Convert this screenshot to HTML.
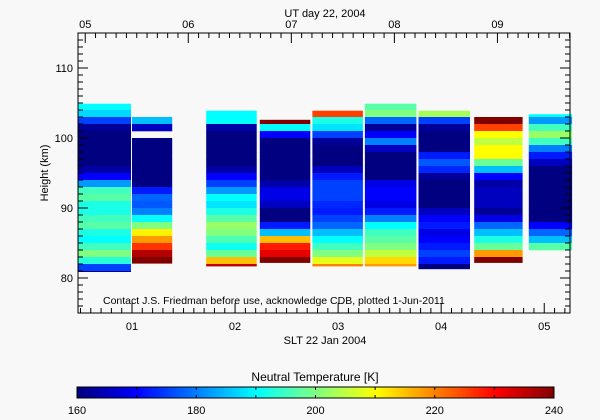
<!DOCTYPE html>
<html><head><meta charset="utf-8"><style>
html,body{margin:0;padding:0;background:#f8f8f8;}
svg{display:block;font-family:"Liberation Sans",sans-serif;}
</style></head><body>
<svg id="chart" width="600" height="420" viewBox="0 0 600 420" xmlns="http://www.w3.org/2000/svg">
<rect x="0" y="0" width="600" height="420" fill="#f8f8f8"/>
<g id="cols"></g>
<g id="axes"></g>
<g id="cbar"></g>
<text x="325" y="17" font-size="11" text-anchor="middle">UT day 22, 2004</text>
<text x="325" y="344" font-size="11" text-anchor="middle">SLT 22 Jan 2004</text>
<text x="0" y="0" font-size="11" text-anchor="middle" transform="translate(48,173) rotate(-90)">Height (km)</text>
<text x="103" y="304" font-size="10.5">Contact J.S. Friedman before use, acknowledge CDB, plotted 1-Jun-2011</text>
<text x="315" y="381" font-size="12" text-anchor="middle">Neutral Temperature [K]</text>
</svg>
<script>
const colStart = [0.476, 1.0, 1.72, 2.24, 2.75, 3.26, 3.78, 4.32, 4.85];
const colEnd   = [0.99, 1.39, 2.21, 2.73, 3.24, 3.76, 4.28, 4.79, 5.27];
const colTop   = [104.9, 103, 103.9, 102.6, 103.9, 104.9, 103.9, 103, 103.4];
const colBottom= [80.9, 82.1, 81.7, 82.2, 81.7, 81.7, 81.3, 82.2, 84];
const col1 = [190,187,175,162,160,160,160,160,160,163,170,182,195,197,192,192,195,197,192,190,195,200,193,175,160];
const col2 = [185,165,null,160,160,160,160,160,160,160,172,178,177,180,190,200,211,218,226,236,240];
const col3 = [190,190,163,160,160,160,160,160,163,170,175,182,190,188,192,197,202,200,196,191,198,215,235];
const col4 = [240,190,170,160,160,160,160,160,160,163,168,168,165,160,160,172,185,215,228,232,240];
const col5 = [225,192,188,175,162,160,160,160,165,172,175,175,175,173,172,175,178,185,190,195,200,208,220];
const col6 = [197,200,178,162,170,180,165,160,160,160,160,168,170,170,168,172,180,190,195,197,200,205,213,218];
const col7 = [203,175,162,160,160,160,172,177,173,162,160,160,160,160,165,170,172,168,170,172,175,172,160];
const col8 = [240,225,210,205,210,210,198,185,170,163,165,165,165,162,168,178,185,192,198,218,240];
const col9 = [190,182,195,202,195,180,172,165,160,160,160,160,160,160,160,160,170,178,185,197];
const columns = [col1,col2,col3,col4,col5,col6,col7,col8,col9];
const yTicks = [80, 90, 100, 110];
const xTicks = ["01","02","03","04","05"];
const xTickVals = [1,2,3,4,5];
const utTicks = ["05","06","07","08","09"];
const utTickVals = [5,6,7,8,9];
const cbTicks = [160,180,200,220,240];

const NS="http://www.w3.org/2000/svg";
const X0=78,X1=570,Y0=33,Y1=313;
const xMin=0.476,xMax=5.25,yMin=75,yMax=115;
function xs(h){return X0+(h-xMin)/(xMax-xMin)*(X1-X0);}
function ys(k){return Y0+(yMax-k)/(yMax-yMin)*(Y1-Y0);}
const utOffset=4.454;
function xu(u){return xs(u-utOffset);}
function jet(v){
  let t=(v-160)/80; t=Math.max(0,Math.min(1,t));
  const c=x=>Math.round(255*Math.max(0,Math.min(1,x)));
  return `rgb(${c(1.5-Math.abs(4*t-3))},${c(1.5-Math.abs(4*t-2))},${c(1.5-Math.abs(4*t-1))})`;
}
function mk(tag,attrs,parent){const e=document.createElementNS(NS,tag);for(const k in attrs)e.setAttribute(k,attrs[k]);parent.appendChild(e);return e;}

const gc=document.getElementById('cols');
columns.forEach((vals,ci)=>{
  const top=colTop[ci],bot=colBottom[ci],ct=Math.ceil(top);
  const xa=xs(colStart[ci]),xb=xs(colEnd[ci]);
  vals.forEach((v,i)=>{
    if(v===null)return;
    const up=i===0?top:ct-i;
    const lo=Math.max(bot,ct-i-1);
    if(up<=bot)return;
    const r=mk('rect',{x:xa.toFixed(1),y:ys(up).toFixed(1),width:(xb-xa).toFixed(1),height:(ys(lo)-ys(up)+0.3).toFixed(1),fill:jet(v)},gc);
    
    
  });
});

const ga=document.getElementById('axes');
const frame=mk('rect',{x:X0,y:Y0,width:X1-X0,height:Y1-Y0,fill:'none',stroke:'#000','stroke-width':1},ga);


// y ticks
for(let k=76;k<=114;k++){
  const major=k%10===0, len=major?10:5;
  mk('line',{x1:X0,x2:X0+len,y1:ys(k),y2:ys(k),stroke:'#000'},ga);
  mk('line',{x1:X1,x2:X1-len,y1:ys(k),y2:ys(k),stroke:'#000'},ga);
}
yTicks.forEach(k=>{
  const t=mk('text',{x:X0-5,y:ys(k)+4,'font-size':11,'text-anchor':'end'},ga);
  t.textContent=k;
  
  
});
// bottom ticks
for(let m=0;m<=60;m++){
  const h=m/10; if(h<xMin||h>xMax)continue;
  const major=m%10===0,len=major?10:5;
  mk('line',{x1:xs(h),x2:xs(h),y1:Y1,y2:Y1-len,stroke:'#000'},ga);
}
xTicks.forEach((lab,i)=>{
  const t=mk('text',{x:xs(xTickVals[i]),y:Y1+17,'font-size':11,'text-anchor':'middle'},ga);
  t.textContent=lab;
  
  
});
// top ticks
for(let m=50;m<=100;m++){
  const u=m/10,x=xu(u); if(x<X0||x>X1)continue;
  const major=m%10===0,len=major?10:5;
  mk('line',{x1:x,x2:x,y1:Y0,y2:Y0+len,stroke:'#000'},ga);
}
utTicks.forEach((lab,i)=>{
  const t=mk('text',{x:xu(utTickVals[i]),y:Y0-5,'font-size':11,'text-anchor':'middle'},ga);
  t.textContent=lab;
  
  
});

// colorbar
const gb=document.getElementById('cbar');
const CB0=77,CB1=554,CBY=387,CBH=11;
for(let i=0;i<240;i++){
  const v=160+80*i/240;
  mk('rect',{x:(CB0+(CB1-CB0)*i/240).toFixed(2),y:CBY,width:((CB1-CB0)/240+0.3).toFixed(2),height:CBH,fill:jet(v)},gb);
}
const cbf=mk('rect',{x:CB0,y:CBY,width:CB1-CB0,height:CBH,fill:'none',stroke:'#000'},gb);


for(let v=170;v<240;v+=10){
  const x=CB0+(v-160)/80*(CB1-CB0);
  mk('line',{x1:x,x2:x,y1:CBY,y2:CBY+3,stroke:'#000'},gb);
  mk('line',{x1:x,x2:x,y1:CBY+CBH,y2:CBY+CBH-3,stroke:'#000'},gb);
}
cbTicks.forEach(v=>{
  const t=mk('text',{x:CB0+(v-160)/80*(CB1-CB0),y:414,'font-size':11,'text-anchor':'middle'},gb);
  t.textContent=v;
  
  
});
</script>
</body></html>
